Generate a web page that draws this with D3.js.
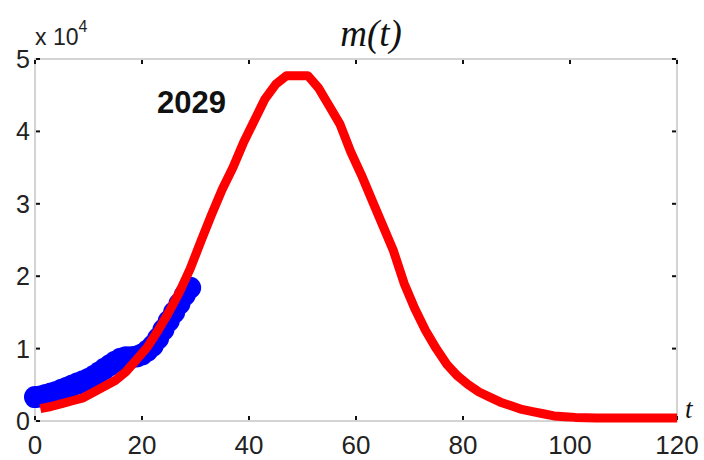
<!DOCTYPE html>
<html>
<head>
<meta charset="utf-8">
<script src="https://cdn.jsdelivr.net/npm/d3@7"></script>
<style>
  body { margin: 0; background: #fff; }
  svg { display: block; }
</style>
</head>
<body>
<svg id="chart" width="704" height="460"></svg>
<script>
// observed data (blue dots), values in units of 1e4
const obsT = [0, 1, 2, 3, 4, 5, 6, 7, 8, 9, 10, 11, 12, 13, 14, 15, 16, 17, 18, 19, 20, 21, 22, 23, 24, 25, 26, 27, 28, 29];
const obsV = [0.33, 0.34, 0.36, 0.38, 0.40, 0.43, 0.46, 0.49, 0.52, 0.55, 0.58, 0.62, 0.67, 0.72, 0.77, 0.82, 0.86, 0.88, 0.88, 0.89, 0.92, 0.97, 1.04, 1.14, 1.26, 1.38, 1.50, 1.62, 1.74, 1.84];

// model curve m(t) (red), values in units of 1e4
const modelT = [1, 3, 5, 7, 9, 11, 13, 15, 17, 19, 21, 23, 25, 27, 29, 31, 33, 35, 37, 39,
  41, 43, 45, 47, 49, 51, 53, 55, 57, 59, 61, 63, 65, 67, 69, 71, 73, 75, 77, 79,
  81, 83, 85, 87, 89, 91, 93, 95, 97, 99, 101, 105, 110, 115, 120];
const modelV = [0.17, 0.20, 0.24, 0.28, 0.32, 0.40, 0.48, 0.56, 0.68, 0.85, 1.02, 1.25, 1.50, 1.78, 2.10, 2.48, 2.85, 3.20, 3.50, 3.85,
  4.15, 4.45, 4.65, 4.77, 4.77, 4.77, 4.60, 4.35, 4.10, 3.72, 3.40, 3.05, 2.70, 2.35, 1.90, 1.55, 1.25, 1.00, 0.78, 0.62,
  0.50, 0.40, 0.33, 0.26, 0.21, 0.16, 0.13, 0.10, 0.07, 0.06, 0.05, 0.04, 0.04, 0.04, 0.04];

const xTicks = [0, 20, 40, 60, 80, 100, 120];
const yTicks = [0, 1, 2, 3, 4, 5];

const svg = d3.select("#chart");
const x = d3.scaleLinear().domain([0, 120]).range([35, 677]);
const y = d3.scaleLinear().domain([0, 5]).range([421, 59]);

// frame
const frameColor = "#d4d4d4";
svg.append("rect")
  .attr("x", x(0)).attr("y", y(5))
  .attr("width", x(120) - x(0)).attr("height", y(0) - y(5))
  .attr("fill", "none").attr("stroke", frameColor).attr("stroke-width", 2);

// inward ticks on all four sides
const tickLen = 4;
svg.append("g").selectAll("line").data(xTicks).join("line")
  .attr("x1", d => x(d)).attr("x2", d => x(d))
  .attr("y1", y(0) - 1).attr("y2", y(0) - 1 - tickLen)
  .attr("stroke", "#111").attr("stroke-width", 2);
svg.append("g").selectAll("line").data(xTicks).join("line")
  .attr("x1", d => x(d)).attr("x2", d => x(d))
  .attr("y1", y(5) + 1).attr("y2", y(5) + 1 + tickLen)
  .attr("stroke", "#111").attr("stroke-width", 2);
svg.append("g").selectAll("line").data(yTicks).join("line")
  .attr("x1", x(0) + 1).attr("x2", x(0) + 1 + tickLen)
  .attr("y1", d => y(d)).attr("y2", d => y(d))
  .attr("stroke", "#111").attr("stroke-width", 2);
svg.append("g").selectAll("line").data(yTicks).join("line")
  .attr("x1", x(120) - 1).attr("x2", x(120) - 1 - tickLen)
  .attr("y1", d => y(d)).attr("y2", d => y(d))
  .attr("stroke", "#111").attr("stroke-width", 2);

// tick labels
const labelFont = "Liberation Sans, Arial, sans-serif";
svg.append("g").selectAll("text").data(xTicks).join("text")
  .attr("x", d => x(d)).attr("y", 454)
  .attr("text-anchor", "middle")
  .attr("font-family", labelFont).attr("font-size", 26).attr("fill", "#222")
  .text(d => d);
svg.append("g").selectAll("text").data(yTicks).join("text")
  .attr("x", 30).attr("y", d => y(d) + 9)
  .attr("text-anchor", "end")
  .attr("font-family", labelFont).attr("font-size", 25).attr("fill", "#222")
  .text(d => d);

// exponent label
const expo = svg.append("text")
  .attr("x", 35).attr("y", 45)
  .attr("font-family", labelFont).attr("font-size", 23).attr("fill", "#222");
expo.append("tspan").text("x 10");
expo.append("tspan").attr("dy", -13).attr("font-size", 16).text("4");

// title and axis label
svg.append("text")
  .attr("x", 371).attr("y", 46)
  .attr("text-anchor", "middle")
  .attr("font-family", "Liberation Serif, DejaVu Serif, serif")
  .attr("font-style", "italic").attr("font-size", 37).attr("fill", "#111")
  .text("m(t)");
svg.append("text")
  .attr("x", 685).attr("y", 418)
  .attr("font-family", "Liberation Serif, DejaVu Serif, serif")
  .attr("font-style", "italic").attr("font-size", 27).attr("fill", "#111")
  .text("t");

// year annotation
svg.append("text")
  .attr("x", 157).attr("y", 113)
  .attr("font-family", labelFont).attr("font-weight", "bold")
  .attr("font-size", 31).attr("fill", "#111")
  .text("2029");

// observed dots
const obs = obsT.map((t, i) => ({ t, v: obsV[i] }));
svg.append("g").selectAll("circle").data(obs).join("circle")
  .attr("cx", d => x(d.t)).attr("cy", d => y(d.v))
  .attr("r", 11).attr("fill", "#0000ff");

// model line
const model = modelT.map((t, i) => ({ t, v: modelV[i] }));
svg.append("path")
  .datum(model)
  .attr("fill", "none")
  .attr("stroke", "#ff0000")
  .attr("stroke-width", 9)
  .attr("stroke-linejoin", "round")
  .attr("d", d3.line().x(d => x(d.t)).y(d => y(d.v)));
</script>
</body>
</html>
